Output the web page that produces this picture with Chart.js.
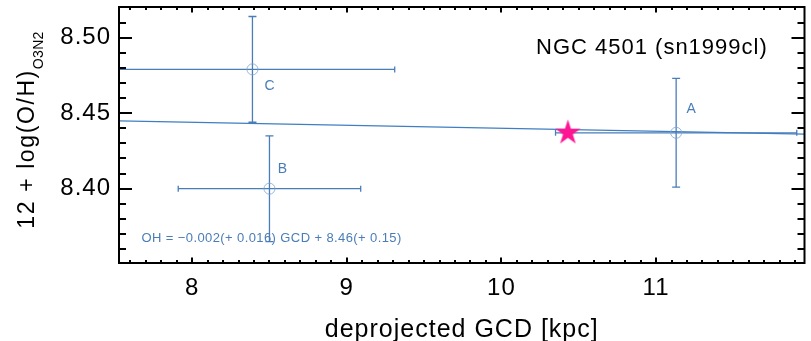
<!DOCTYPE html>
<html>
<head>
<meta charset="utf-8">
<script src="https://cdn.jsdelivr.net/npm/chart.js@4.4.1/dist/chart.umd.min.js"></script>
<style>
  html, body { margin: 0; padding: 0; background: #fff; overflow: hidden; }
  canvas { display: block; }
</style>
</head>
<body>
<canvas id="chart" width="811" height="341" style="width:811px;height:341px"></canvas>
<script>
// H II region oxygen abundances against deprojected galactocentric distance, NGC 4501
const regionNames  = ['A', 'B', 'C'];
const regionGCD    = [11.13, 8.50, 8.39];
const regionGCDErr = [0.78, 0.59, 0.92];
const regionOH     = [8.437, 8.400, 8.479];
const regionOHErr  = [0.036, 0.035, 0.035];

// supernova site
const snGCD = [10.43];
const snOH  = [8.437];

// linear fit OH = slope * GCD + intercept
const fitSlope = -0.002;
const fitIntercept = 8.46;
const fitText = 'OH = \u22120.002(+ 0.016) GCD + 8.46(+ 0.15)';
const titleText = 'NGC 4501 (sn1999cl)';

// axes
const xRange = [7.527, 11.96];
const yRange = [8.3508, 8.5203];
const xTicks = [8, 9, 10, 11];
const yTicks = [8.40, 8.45, 8.50];
const xMinorStep = 0.1;
const yMinorStep = 0.01;

const BLUE = '#4a7db8';
const FONT = '"Liberation Sans", Arial, Helvetica, sans-serif';

const regionPoints = regionGCD.map((x, i) => ({ x, y: regionOH[i] }));
const snPoints = snGCD.map((x, i) => ({ x, y: snOH[i] }));
const fitPoints = xRange.map(x => ({ x, y: fitSlope * x + fitIntercept }));

// filled five-pointed star used as the supernova marker
function makeStar(R, color) {
  const size = Math.ceil(R * 2 + 4);
  const c = document.createElement('canvas');
  c.width = size; c.height = size;
  const g = c.getContext('2d');
  const cx = size / 2, cy = size / 2, r = R * 0.382;
  g.beginPath();
  for (let k = 0; k < 10; k++) {
    const rad = k % 2 === 0 ? R : r;
    const a = -Math.PI / 2 + k * Math.PI / 5;
    const px = cx + rad * Math.cos(a), py = cy + rad * Math.sin(a);
    k === 0 ? g.moveTo(px, py) : g.lineTo(px, py);
  }
  g.closePath();
  g.fillStyle = color;
  g.fill();
  return c;
}
const starMarker = makeStar(13.3, '#ff1493');

function minorValues(lo, hi, step) {
  const out = [];
  for (let v = Math.ceil(lo / step - 1e-6) * step; v <= hi + 1e-9; v += step) out.push(v);
  return out;
}

const errorBars = {
  id: 'errorBars',
  beforeDatasetsDraw(chart) {
    const { ctx, chartArea: a, scales: { x, y } } = chart;
    ctx.save();
    ctx.beginPath();
    ctx.rect(a.left, a.top, a.right - a.left, a.bottom - a.top);
    ctx.clip();
    ctx.strokeStyle = BLUE;
    ctx.lineWidth = 1.3;
    regionGCD.forEach((gx, i) => {
      const px = x.getPixelForValue(gx), py = y.getPixelForValue(regionOH[i]);
      const x0 = x.getPixelForValue(gx - regionGCDErr[i]);
      const x1 = x.getPixelForValue(gx + regionGCDErr[i]);
      const y0 = y.getPixelForValue(regionOH[i] + regionOHErr[i]);
      const y1 = y.getPixelForValue(regionOH[i] - regionOHErr[i]);
      ctx.beginPath();
      ctx.moveTo(x0, py); ctx.lineTo(x1, py);
      ctx.moveTo(x0, py - 3); ctx.lineTo(x0, py + 3);
      ctx.moveTo(x1, py - 3); ctx.lineTo(x1, py + 3);
      ctx.moveTo(px, y0); ctx.lineTo(px, y1);
      ctx.moveTo(px - 4, y0); ctx.lineTo(px + 4, y0);
      ctx.moveTo(px - 4, y1); ctx.lineTo(px + 4, y1);
      ctx.stroke();
    });
    ctx.restore();
  }
};

const labelOffsets = [[15, -24], [13, -20], [17, 17]];

const decorations = {
  id: 'decorations',
  beforeDraw(chart) {
    chart.ctx.letterSpacing = '1px';
  },
  afterDraw(chart) {
    const { ctx, chartArea: a, scales: { x, y } } = chart;
    ctx.save();

    // frame with inward ticks on all four sides
    ctx.strokeStyle = '#000';
    ctx.lineWidth = 2;
    ctx.beginPath();
    ctx.rect(a.left, a.top, a.right - a.left, a.bottom - a.top);
    ctx.stroke();
    ctx.beginPath();
    minorValues(xRange[0], xRange[1], xMinorStep).forEach(v => {
      const major = xTicks.some(t => Math.abs(t - v) < 1e-6);
      const len = major ? 5.5 : 3;
      const px = Math.round(x.getPixelForValue(v));
      ctx.moveTo(px, a.bottom); ctx.lineTo(px, a.bottom - len);
      ctx.moveTo(px, a.top); ctx.lineTo(px, a.top + len);
    });
    minorValues(yRange[0], yRange[1], yMinorStep).forEach(v => {
      const major = yTicks.some(t => Math.abs(t - v) < 1e-6);
      const len = major ? 13 : 7;
      const py = Math.round(y.getPixelForValue(v));
      ctx.moveTo(a.left, py); ctx.lineTo(a.left + len, py);
      ctx.moveTo(a.right, py); ctx.lineTo(a.right - len, py);
    });
    ctx.stroke();

    // region labels
    ctx.fillStyle = BLUE;
    ctx.font = '14px ' + FONT;
    ctx.letterSpacing = '0px';
    ctx.textAlign = 'center';
    ctx.textBaseline = 'middle';
    regionNames.forEach((n, i) => {
      ctx.fillText(n, x.getPixelForValue(regionGCD[i]) + labelOffsets[i][0],
                      y.getPixelForValue(regionOH[i]) + labelOffsets[i][1]);
    });

    // fit relation
    ctx.font = '13px ' + FONT;
    ctx.letterSpacing = '0.4px';
    ctx.textAlign = 'left';
    ctx.fillText(fitText, a.left + 22.5, a.bottom - 24.5);

    // galaxy name
    ctx.fillStyle = '#000';
    ctx.font = '22px ' + FONT;
    ctx.letterSpacing = '1px';
    ctx.fillText(titleText, a.left + 417, a.top + 41);

    // x-axis title
    ctx.font = '25px ' + FONT;
    ctx.textAlign = 'center';
    ctx.textBaseline = 'alphabetic';
    ctx.fillText('deprojected GCD [kpc]', (a.left + a.right) / 2, 336.5);

    // y-axis title with subscript
    const main = '12 + log(O/H)', sub = 'O3N2';
    ctx.font = '23px ' + FONT;
    ctx.letterSpacing = '1.6px';
    const mw = ctx.measureText(main).width;
    ctx.font = '14px ' + FONT;
    ctx.letterSpacing = '0.3px';
    const sw = ctx.measureText(sub).width;
    const startY = 130 + (mw + sw) / 2;
    ctx.translate(34, startY);
    ctx.rotate(-Math.PI / 2);
    ctx.textAlign = 'left';
    ctx.font = '23px ' + FONT;
    ctx.letterSpacing = '1.6px';
    ctx.fillText(main, 0, 0);
    ctx.font = '14px ' + FONT;
    ctx.letterSpacing = '0.3px';
    ctx.fillText(sub, mw, 8.5);

    ctx.restore();
    ctx.letterSpacing = '0px';
  }
};

new Chart(document.getElementById('chart'), {
  data: {
    datasets: [
      {
        type: 'line',
        data: fitPoints,
        borderColor: '#3f7ec2',
        borderWidth: 1.3,
        pointRadius: 0,
        order: 3
      },
      {
        type: 'scatter',
        data: regionPoints,
        pointStyle: 'circle',
        pointRadius: 5.5,
        borderColor: 'rgba(125,165,212,0.8)',
        backgroundColor: 'rgba(0,0,0,0)',
        borderWidth: 1,
        order: 2
      },
      {
        type: 'scatter',
        data: snPoints,
        pointStyle: starMarker,
        order: 1
      }
    ]
  },
  options: {
    responsive: false,
    animation: false,
    events: [],
    layout: { padding: { top: 7, right: 5, bottom: 0, left: 0 } },
    plugins: { legend: { display: false }, tooltip: { enabled: false } },
    scales: {
      x: {
        type: 'linear',
        min: xRange[0],
        max: xRange[1],
        grid: { display: false, drawTicks: false },
        border: { display: false },
        ticks: {
          color: '#000',
          font: { family: FONT, size: 24 },
          padding: 10.5,
          maxRotation: 0,
          callback: v => String(v)
        },
        afterBuildTicks(s) { s.ticks = xTicks.map(v => ({ value: v })); },
        afterFit(s) { s.height = 78; s.paddingLeft = 0; s.paddingRight = 0; }
      },
      y: {
        type: 'linear',
        min: yRange[0],
        max: yRange[1],
        grid: { display: false, drawTicks: false },
        border: { display: false },
        ticks: {
          color: '#000',
          font: { family: FONT, size: 24 },
          padding: 8,
          callback: v => v.toFixed(2)
        },
        afterBuildTicks(s) { s.ticks = yTicks.map(v => ({ value: v })); },
        afterFit(s) { s.width = 119; s.paddingTop = 0; s.paddingBottom = 0; }
      }
    }
  },
  plugins: [errorBars, decorations]
});
</script>
</body>
</html>
